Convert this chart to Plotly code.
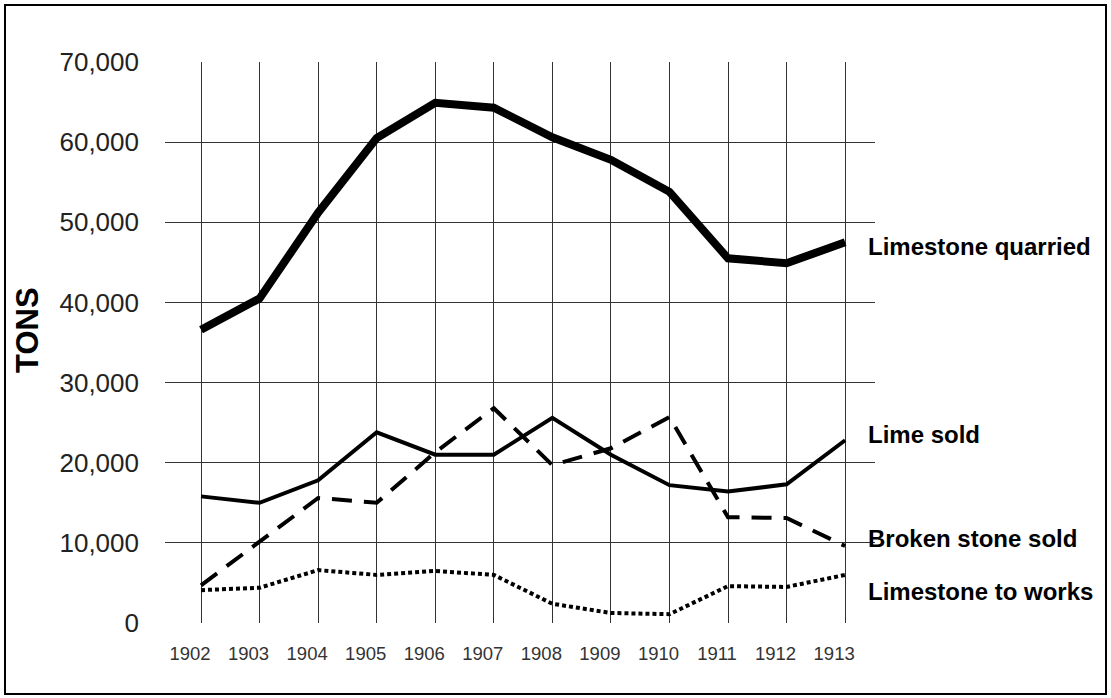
import plotly.graph_objects as go

years = [1902, 1903, 1904, 1905, 1906, 1907, 1908, 1909, 1910, 1911, 1912, 1913]
limestone_quarried = [36600, 40500, 51200, 60500, 64900, 64300, 60600, 57800, 53800, 45500, 44900, 47500]
lime_sold = [15800, 15000, 17800, 23800, 21000, 21000, 25600, 21000, 17200, 16400, 17300, 22800]
broken_stone_sold = [4700, 10200, 15600, 15000, 21300, 26800, 19700, 21800, 25700, 13200, 13100, 9600]
limestone_to_works = [4100, 4400, 6600, 6000, 6500, 6000, 2400, 1250, 1100, 4600, 4500, 6000]
y_ticks = [0, 10000, 20000, 30000, 40000, 50000, 60000, 70000]
y_tick_labels = ["0", "10,000", "20,000", "30,000", "40,000", "50,000", "60,000", "70,000"]
series_names = ["Limestone quarried", "Lime sold", "Broken stone sold", "Limestone to works"]

W, H = 1111, 698
L, R, T, B = 165, 875, 62, 623  # plot area in px

def px_x(p):
    return (p - L) / (R - L)

def px_y(p):
    return (B - p) / (B - T)

fig = go.Figure()
fig.add_trace(go.Scatter(x=years, y=limestone_quarried, mode="lines", name=series_names[0],
                         line=dict(color="black", width=8)))
fig.add_trace(go.Scatter(x=years, y=lime_sold, mode="lines", name=series_names[1],
                         line=dict(color="black", width=4)))
fig.add_trace(go.Scatter(x=years, y=broken_stone_sold, mode="lines", name=series_names[2],
                         line=dict(color="black", width=4, dash="20px,12px")))
fig.add_trace(go.Scatter(x=years, y=limestone_to_works, mode="lines", name=series_names[3],
                         line=dict(color="black", width=4, dash="4px,3px")))

sans = "Liberation Sans, Arial, sans-serif"

label_y_px = [246, 434, 538, 591]
annotations = []
for name, yp in zip(series_names, label_y_px):
    annotations.append(dict(text="<b>%s</b>" % name, xref="paper", yref="paper",
                            x=px_x(866), y=px_y(yp), xanchor="left", yanchor="middle",
                            showarrow=False, font=dict(family=sans, size=24, color="black")))
annotations.append(dict(text="<b>TONS</b>", xref="paper", yref="paper",
                        x=px_x(28), y=px_y(330), xanchor="center", yanchor="middle",
                        textangle=-90, showarrow=False,
                        font=dict(family=sans, size=31, color="black")))

fig.update_layout(
    width=W, height=H,
    margin=dict(l=L, r=W - R, t=T, b=H - B, pad=0),
    paper_bgcolor="white", plot_bgcolor="white",
    showlegend=False,
    annotations=annotations,
    shapes=[dict(type="rect", xref="paper", yref="paper",
                 x0=px_x(5), x1=px_x(1106), y0=px_y(694), y1=px_y(5),
                 line=dict(color="black", width=2), fillcolor="rgba(0,0,0,0)", layer="below")],
    xaxis=dict(range=[1901.385, 1913.51], tickmode="array", tickvals=years,
               ticktext=[str(y) for y in years], showgrid=True, gridcolor="#333333",
               gridwidth=1, zeroline=False, showline=False, ticks="", automargin=False,
               ticklabelstandoff=17, ticklabelshift=-11,
               tickfont=dict(family=sans, size=18.5, color="#333333")),
    yaxis=dict(range=[0, 70000], tickmode="array", tickvals=y_ticks, ticktext=y_tick_labels,
               showgrid=True, gridcolor="#333333", gridwidth=1, zeroline=False,
               showline=False, ticks="", automargin=False, ticklabelstandoff=25,
               tickfont=dict(family=sans, size=26, color="#222222")),
)

fig.write_html("out.html", config={"displayModeBar": False},
               post_script="document.body.style.margin='0px';")
